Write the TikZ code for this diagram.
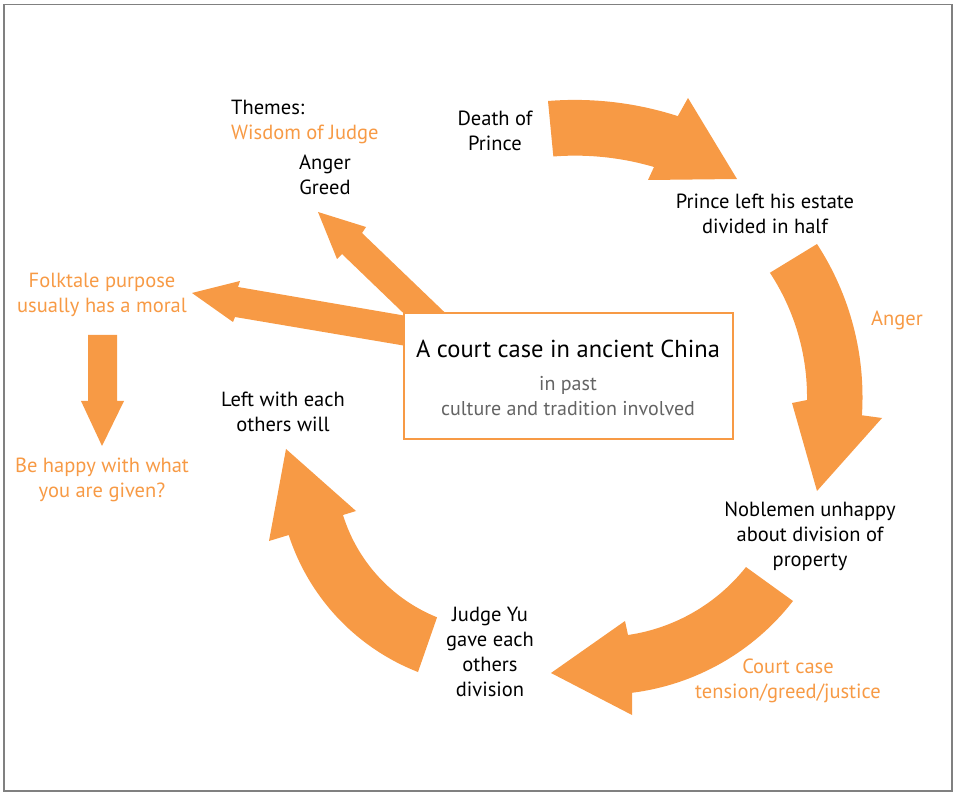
\documentclass[tikz,border=0pt]{standalone}
\usepackage{fontspec}
\setmainfont{PT Sans}
\usetikzlibrary{positioning}
\definecolor{folkorange}{RGB}{247,154,69}
\definecolor{subgray}{RGB}{100,100,100}
\tikzset{
  story/.style={align=center,inner sep=0pt,font=\fontsize{20.5}{25}\selectfont},
  note/.style={story,text=folkorange},
  bigarrow/.style={fill=folkorange}
}

\begin{document}
\begin{tikzpicture}[x=1pt,y=-1pt]
      \useasboundingbox (0,0) rectangle (954,794);

      % gray frame round the whole picture
      \draw[gray,line width=1.5pt] (4,4.5) rectangle (952,791);

      % curved arrows of the story cycle
      \fill[bigarrow] (548,101) arc[start angle=-94.6,end angle=-72.1,radius=335] -- (688,98) -- (737,179)
            -- (648,180) -- (654,167) arc[start angle=-73.6,end angle=-94.5,radius=279] -- cycle;
      \fill[bigarrow] (817,244) arc[start angle=-33.1,end angle=3.7,radius=280.5] -- (882,418) -- (817,491)
            -- (792,403) -- (807,400) arc[start angle=0.8,end angle=-33.3,radius=226] -- cycle;
      \fill[bigarrow] (793,601) arc[start angle=37.8,end angle=82.8,radius=242] -- (632,715) -- (551,673)
            -- (625,621) -- (628,635) arc[start angle=81.7,end angle=38.4,radius=184.5] -- cycle;
      \fill[bigarrow] (418,672) arc[start angle=111.3,end angle=162,radius=220] -- (269,541) -- (286,449)
            -- (356,511) -- (343,515) arc[start angle=162.8,end angle=112,radius=162] -- cycle;

      % straight arrows out of the centre box
      \fill[bigarrow] (462,329) -- (362,233) -- (366,227) -- (318,212) -- (337,259)
            -- (342,254) -- (422,331) -- cycle;
      \fill[bigarrow] (430,320) -- (238,287) -- (240,281) -- (192,293) -- (233,322)
            -- (235,317) -- (430,350) -- cycle;

      % down arrow under the folktale note
      \fill[bigarrow] (88,335) -- (117,335) -- (117,401) -- (124,401) -- (102,446)
            -- (81,401) -- (88,401) -- cycle;

      % centre box
      \draw[folkorange,fill=white,line width=2pt] (404,313) rectangle (733,439);
      \node[story,font=\fontsize{24.5}{28}\selectfont] (title) at (568,349) {A court case in ancient China};
      \node[story,text=subgray,font=\fontsize{20}{25}\selectfont] (past) at (568,396)
            {in past\\culture and tradition involved};

      % texts round the cycle
      \node[story] (death) at (495,131) {Death of\\Prince};
      \node[story] (estate) at (765,214) {Prince left his estate\\divided in half};
      \node[note] (anger) at (897,320) {Anger};
      \node[story] (noble) at (810,536) {Noblemen unhappy\\about division of\\property};
      \node[note] (court) at (788,681) {Court case\\tension/greed/justice};
      \node[story] (judge) at (490,652) {Judge Yu\\gave each\\others\\division};
      \node[story] (will) at (283,412) {Left with each\\others will};

      % themes and the moral
      \node[story,align=left,anchor=west] (themes) at (231,122) {Themes:\\\textcolor{folkorange}{Wisdom of Judge}};
      \node[story] (traits) at (325,175) {Anger\\Greed};
      \node[note] (purpose) at (102,295) {Folktale purpose\\usually has a moral};
      \node[note] (moral) at (102,480) {Be happy with what\\you are given?};
    \end{tikzpicture}
\end{document}
